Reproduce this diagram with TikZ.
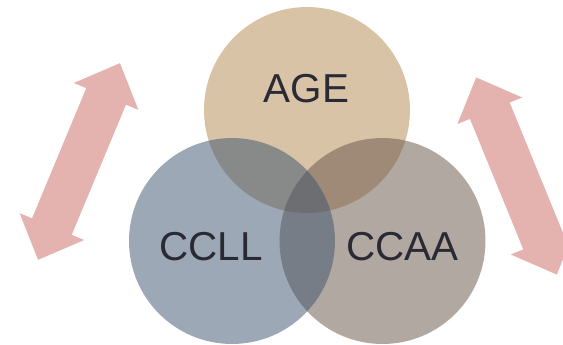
\documentclass[tikz,border=0pt]{standalone}
\usepackage{fontspec}
\setmainfont{Liberation Sans}
\usepackage{tikz}

\definecolor{agecol}{HTML}{B28950}
\definecolor{ccaacol}{HTML}{685449}
\definecolor{ccllcol}{HTML}{3D546E}
\definecolor{arrowcol}{HTML}{E4B2AF}
\definecolor{textcol}{HTML}{2A2A35}

\tikzset{
  setcircle/.style={circle, minimum size=4.12cm, inner sep=0pt, fill opacity=0.51},
  setlabel/.style={anchor=base, inner sep=0pt, text=textcol, font=\fontsize{23}{27}\selectfont},
  dblarrow/.pic={
    \fill[arrowcol] (106.5,0) -- (70.5,35) -- (70.5,21.5) -- (-70.5,21.5) -- (-70.5,35)
      -- (-106.5,0) -- (-70.5,-35) -- (-70.5,-21.5) -- (70.5,-21.5) -- (70.5,-35) -- cycle;
  }
}

\begin{document}
\begin{tikzpicture}[x=0.02cm, y=-0.02cm]
\useasboundingbox (0,0) rectangle (563,344);

% Draw arrows.
\pic[rotate=67.4] at (79,161.5) {dblarrow};
\pic[rotate=-67.75] at (516.5,176) {dblarrow};

% Draw circles.
\node[setcircle, fill=agecol] (age) at (307,110) {};
\node[setcircle, fill=ccaacol] (ccaa) at (382.5,241) {};
\node[setcircle, fill=ccllcol] (ccll) at (232,241) {};

% Draw labels.
\node[setlabel] (agetext) at (306.5,103) {AGE};
\node[setlabel] (cclltext) at (211,260) {CCLL};
\node[setlabel] (ccaatext) at (402.5,260) {CCAA};

\end{tikzpicture}
\end{document}
